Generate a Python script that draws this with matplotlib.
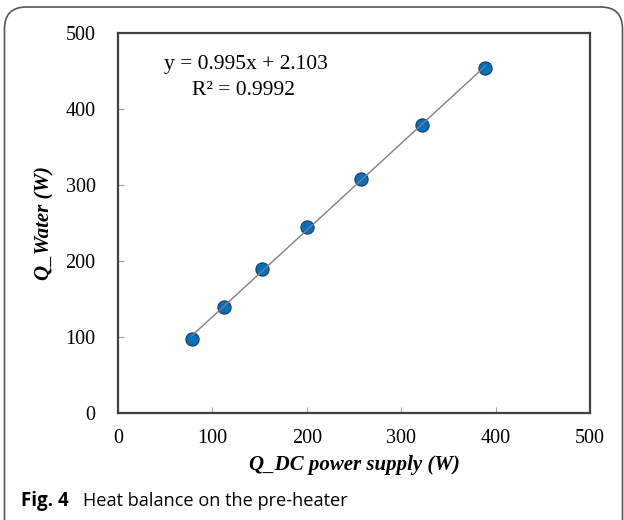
import numpy as np
import matplotlib
matplotlib.use("Agg")
import matplotlib.pyplot as plt
from matplotlib.patches import FancyBboxPatch

# data
q_dc = [78, 112, 153, 200, 257, 322, 389]
q_water = [97, 139, 189, 245, 308, 379, 454]
ticks = [0, 100, 200, 300, 400, 500]

eq_text = "y = 0.995x + 2.103"
r2_text = "R\u00b2 = 0.9992"

serif = "Liberation Serif"

fig = plt.figure(figsize=(6.24, 5.2), dpi=100)
ax = fig.add_axes([0.189, 0.2063, 0.7565, 0.7297])

# linear trend line through the points
slope, icpt = np.polyfit(q_dc, q_water, 1)
xs = np.array([min(q_dc), max(q_dc)])
ax.plot(q_dc, q_water, "o", ms=9.5, mfc="#0070C0", mec="#1F3864", mew=0.8, zorder=3)
ax.plot(xs, slope * xs + icpt, color="#808080", lw=1.0, zorder=4)

ax.set_xlim(0, 500)
ax.set_ylim(0, 500)
ax.set_xticks(ticks)
ax.set_yticks(ticks)
ax.tick_params(direction="in", length=4, color="#a0a0a0", width=0.8)
ax.tick_params(axis="y", pad=16)
ax.tick_params(axis="x", pad=12)
for lab in ax.get_xticklabels() + ax.get_yticklabels():
    lab.set_fontfamily(serif)
    lab.set_fontsize(14.5)
for sp in ax.spines.values():
    sp.set_color("#404040")
    sp.set_linewidth(1.6)

ax.set_xlabel("Q_DC power supply (W)", family=serif, fontsize=15,
              fontweight="bold", style="italic", labelpad=5)
ax.set_ylabel("Q_Water (W)", family=serif, fontsize=15,
              fontweight="bold", style="italic", labelpad=8)

ax.text(0.272, 0.9165, eq_text, transform=ax.transAxes, ha="center", va="center",
        family=serif, fontsize=15.5)
ax.text(0.266, 0.848, r2_text, transform=ax.transAxes, ha="center", va="center",
        family=serif, fontsize=15.5)

# caption and outer frame
fig.text(21 / 624, 0.0269, "Fig. 4", family="Open Sans", fontweight="bold",
         fontsize=13.5, va="baseline")
fig.text(83 / 624, 0.0269, "Heat balance on the pre-heater", family="Open Sans",
         fontsize=13.1, va="baseline")

frame = FancyBboxPatch((4.5 / 624, -0.05), 618 / 624, 0.05 + 513 / 520,
                       boxstyle="round,pad=0,rounding_size=0.035",
                       transform=fig.transFigure, fill=False,
                       edgecolor="#555555", lw=1.2, mutation_aspect=624 / 520)
fig.patches.append(frame)

fig.savefig("out.png", dpi=100)
